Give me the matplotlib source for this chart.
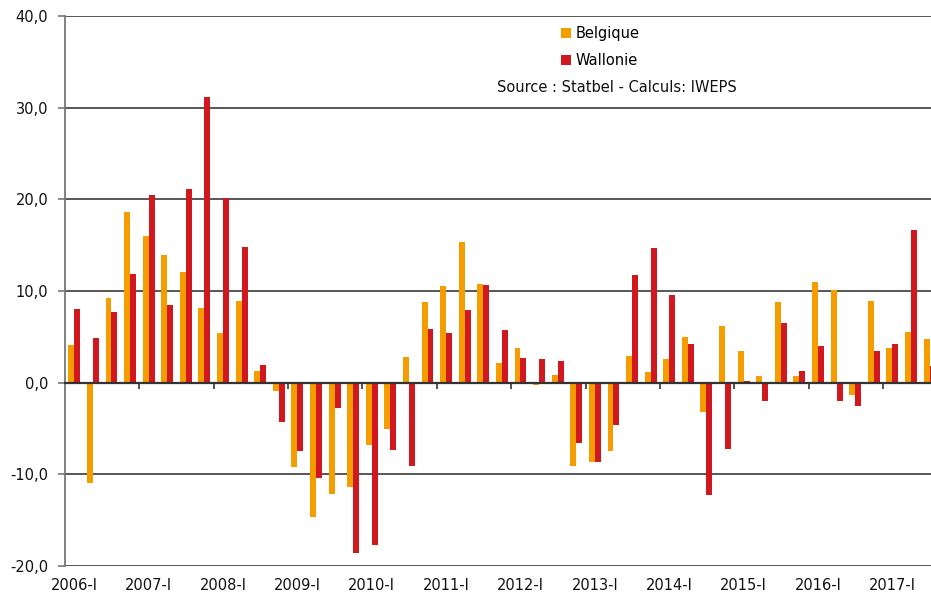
import matplotlib.pyplot as plt
from matplotlib.ticker import FuncFormatter

# trimestres 2006-I .. 2017-III
years = list(range(2006, 2018))
quarters = [f"{y}-{q}" for y in years for q in ["I", "II", "III", "IV"]][:47]

belgique = [4.1, -10.9, 9.2, 18.6, 16.0, 13.9, 12.1, 8.1, 5.4, 8.9,
            1.3, -0.9, -9.2, -14.7, -12.1, -11.4, -6.8, -5.0, 2.8, 8.8,
            10.6, 15.3, 10.8, 2.1, 3.8, -0.2, 0.8, -9.1, -8.6, -7.4,
            2.9, 1.2, 2.6, 5.0, -3.2, 6.2, 3.5, 0.7, 8.8, 0.7,
            11.0, 10.1, -1.3, 8.9, 3.8, 5.5, 4.8]
wallonie = [8.0, 4.9, 7.7, 11.9, 20.5, 8.5, 21.1, 31.2, 20.1, 14.8,
            1.9, -4.3, -7.4, -10.4, -2.8, -18.6, -17.7, -7.3, -9.1, 5.9,
            5.4, 7.9, 10.7, 5.7, 2.7, 2.6, 2.4, -6.6, -8.7, -4.6,
            11.8, 14.7, 9.6, 4.2, -12.2, -7.2, 0.2, -2.0, 6.5, 1.3,
            4.0, -2.0, -2.5, 3.5, 4.2, 16.7, 1.8]

col_be = "#F59C00"
col_wa = "#D0181E"
grid_col = "#4a4a4a"

plt.rcParams["font.family"] = ["DejaVu Sans"]

fig = plt.figure(figsize=(9.31, 5.95), dpi=100)
ax = fig.add_axes([65 / 931, 29 / 595, 866 / 931, 550 / 595])

x = list(range(len(quarters)))
w = 0.32
ax.bar([i - w / 2 for i in x], belgique, width=w, color=col_be, label="Belgique", zorder=3)
ax.bar([i + w / 2 for i in x], wallonie, width=w, color=col_wa, label="Wallonie", zorder=3)

ax.set_ylim(-20, 40)
ax.set_xlim(-0.5, 46.08)
ax.set_yticks(range(-20, 41, 10))
ax.yaxis.set_major_formatter(FuncFormatter(lambda v, p: f"{v:.1f}".replace(".", ",")))
ax.yaxis.grid(True, color=grid_col, linewidth=1.3, zorder=0)
ax.tick_params(axis="y", length=5, color="#777777", width=1.2, labelsize=10.5,
               labelcolor="#111111", pad=7)

for s in ["top", "right"]:
    ax.spines[s].set_visible(False)
ax.spines["left"].set_color("#777777")
ax.spines["left"].set_linewidth(1.3)
ax.spines["bottom"].set_position(("data", 0))
ax.spines["bottom"].set_color("#333333")
ax.spines["bottom"].set_linewidth(1.6)
ax.spines["bottom"].set_zorder(4)

# petits traits entre les années, sur la ligne du zéro
ax.set_xticks([i - 0.5 for i in x if i % 4 == 0 and i > 0])
ax.set_xticklabels([])
ax.tick_params(axis="x", length=4, color="#333333", width=1.2, direction="out")

# étiquettes en bas du graphique
sec = ax.secondary_xaxis(0)
sec.set_xticks([i for i in x if i % 4 == 0])
sec.set_xticklabels([q for i, q in enumerate(quarters) if i % 4 == 0])
sec.tick_params(length=0, labelsize=10.5, labelcolor="#111111", pad=9)
sec.spines["bottom"].set_visible(False)

leg = ax.legend(loc="upper left", bbox_to_anchor=(561 / 931, 1 - 26 / 595),
                bbox_transform=fig.transFigure, frameon=False, fontsize=10.5,
                handlelength=0.7, handleheight=0.7, handletextpad=0.3,
                labelspacing=0.85, borderpad=0, borderaxespad=0)
fig.text(617 / 931, 1 - 87 / 595, "Source : Statbel - Calculs: IWEPS",
         ha="center", va="center", fontsize=10.5, color="#111111")

fig.savefig("out.png", dpi=100)
